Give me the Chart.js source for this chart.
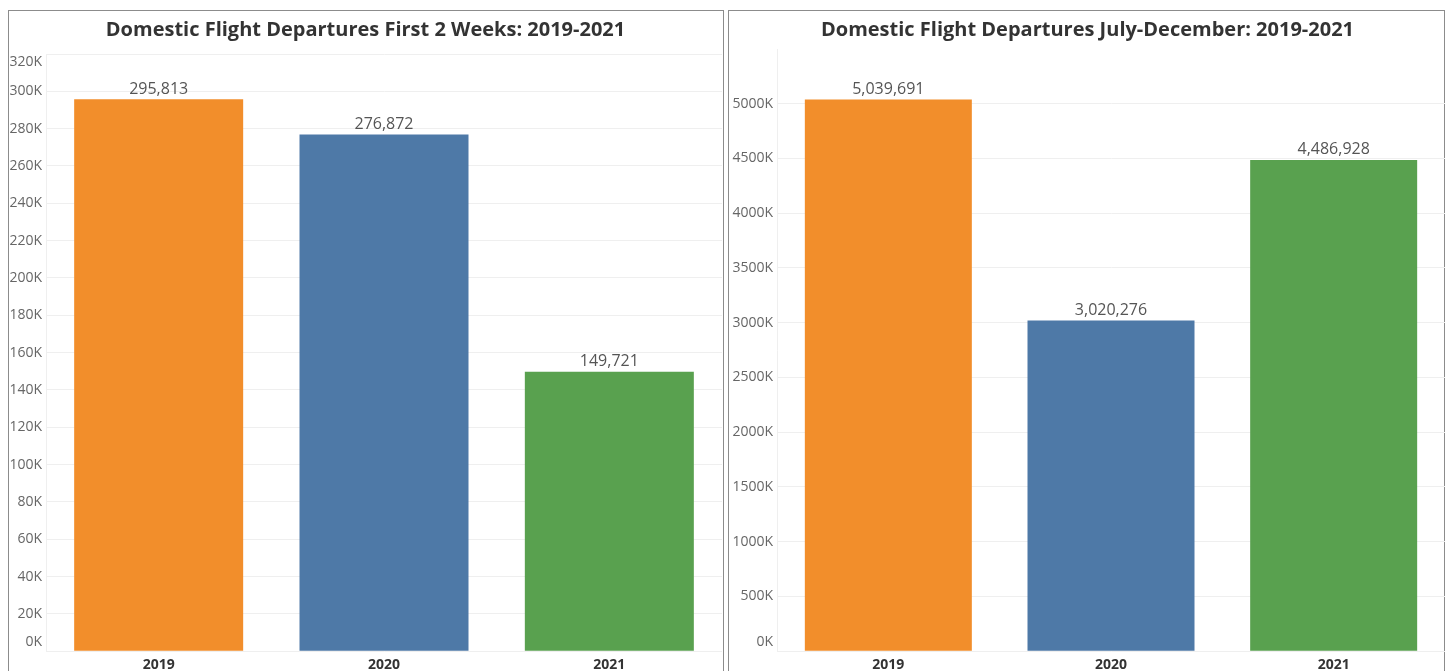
<!DOCTYPE html>
<html><head><meta charset="utf-8">
<script src="https://cdn.jsdelivr.net/npm/chart.js@4.4.1/dist/chart.umd.min.js"></script>
<style>
html,body{margin:0;padding:0;background:#fff;width:1448px;height:671px;overflow:hidden;}
.panel{position:absolute;border:1px solid #8c8c8c;box-sizing:border-box;}
#p1{left:8px;top:10px;width:716px;height:690px;}
#p2{left:728px;top:10px;width:717px;height:690px;}
canvas{position:absolute;}
#c1{left:9px;top:11px;}
#c2{left:730px;top:11px;}
</style></head>
<body>
<div class="panel" id="p1"></div>
<div class="panel" id="p2"></div>
<canvas id="c1" width="713" height="659"></canvas>
<canvas id="c2" width="715" height="659"></canvas>
<script>
const categories = ['2019','2020','2021'];
const first2Weeks = [295813, 276872, 149721];
const julyDecember = [5039691, 3020276, 4486928];
const barColors = ['#F28E2B','#4E79A7','#59A14F'];
const titles = ['Domestic Flight Departures First 2 Weeks: 2019-2021','Domestic Flight Departures July-December: 2019-2021'];
const axis1 = {max:320000, step:20000};
const axis2 = {max:5500000, step:500000, hideAbove:5000000};

const FONT = "'Open Sans', sans-serif";

const valueLabels = {
  id:'valueLabels',
  afterDatasetsDraw(chart){
    const ctx = chart.ctx;
    const meta = chart.getDatasetMeta(0);
    ctx.save();
    ctx.font = "16px " + FONT;
    ctx.fillStyle = '#555';
    ctx.textAlign = 'center';
    ctx.textBaseline = 'bottom';
    meta.data.forEach((bar,i)=>{
      const v = chart.data.datasets[0].data[i];
      ctx.fillText(v.toLocaleString('en-US'), bar.x, bar.y - 2);
    });
    ctx.restore();
  }
};

const yLabels = {
  id:'yLabels',
  afterDraw(chart, args, opts){
    const s = chart.scales.y;
    const ctx = chart.ctx;
    ctx.save();
    ctx.font = "14px " + FONT;
    ctx.fillStyle = '#666';
    ctx.textAlign = 'right';
    ctx.textBaseline = 'middle';
    s.ticks.forEach(t=>{
      if (opts.hideAbove !== undefined && t.value > opts.hideAbove) return;
      let y = s.getPixelForValue(t.value);
      y = Math.max(s.top + 8, Math.min(s.bottom - 9, y));
      ctx.fillText(Math.round(t.value/1000) + 'K', s.left + opts.width - 4, y);
    });
    ctx.restore();
  }
};

function makeChart(id, values, title, ax, yWidth, titleBottom){
  return new Chart(document.getElementById(id), {
    type:'bar',
    data:{labels:categories, datasets:[{data:values, backgroundColor:barColors, barPercentage:0.75, categoryPercentage:1.0}]},
    options:{
      responsive:false, animation:false,
      layout:{padding:{left:0,right:0,top:0,bottom:0}},
      plugins:{
        legend:{display:false}, tooltip:{enabled:false},
        title:{display:true, text:title, color:'#333', font:{family:FONT, size:20, weight:'bold'}, padding:{top:7, bottom:titleBottom}},
        yLabels:{width:yWidth, hideAbove:ax.hideAbove}
      },
      scales:{
        x:{grid:{display:false}, border:{display:false},
           ticks:{color:'#333', font:{family:FONT, size:14, weight:'bold'}, padding:-3}},
        y:{min:0, max:ax.max,
           afterFit(scale){ scale.width = yWidth; },
           ticks:{stepSize:ax.step, color:'rgba(0,0,0,0)', font:{family:FONT,size:13}},
           grid:{drawTicks:false, color:(c)=> (ax.hideAbove!==undefined && c.tick && c.tick.value>ax.hideAbove) ? 'rgba(0,0,0,0)' : '#efefef'},
           border:{color:'#efefef'}}
      }
    },
    plugins:[valueLabels, yLabels]
  });
}
makeChart('c1', first2Weeks, titles[0], axis1, 37, 12);
makeChart('c2', julyDecember, titles[1], axis2, 47, 7);
</script>
</body></html>
